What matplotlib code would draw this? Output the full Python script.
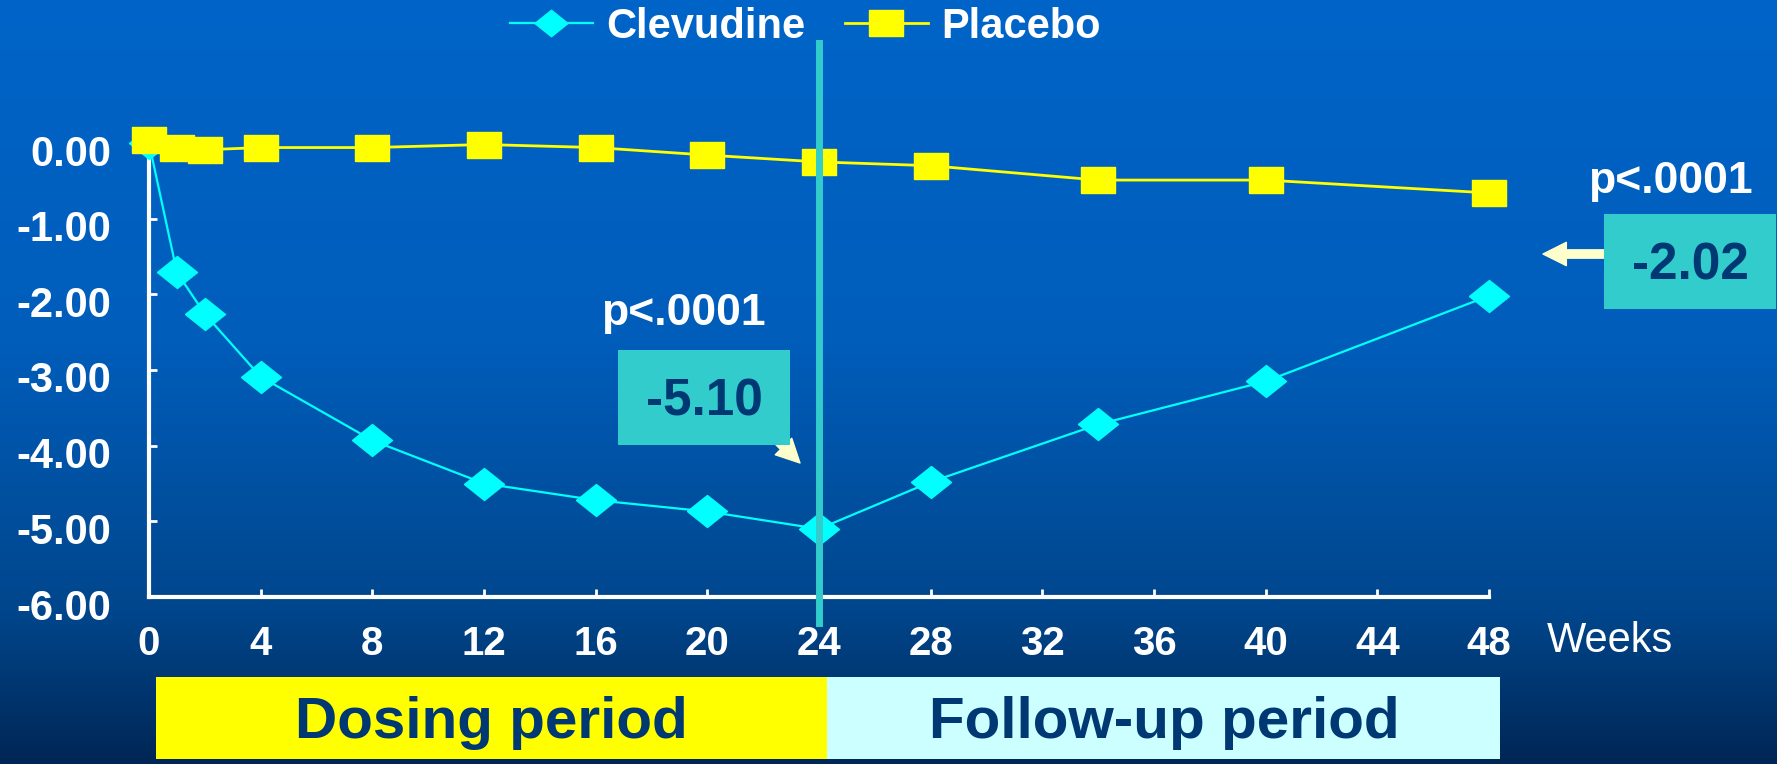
import matplotlib
matplotlib.use('Agg')
import matplotlib.pyplot as plt
import numpy as np
from matplotlib.patches import Rectangle, FancyArrowPatch
from matplotlib.lines import Line2D
from matplotlib.transforms import ScaledTranslation

plt.rcParams['font.family'] = ['Liberation Sans', 'DejaVu Sans']

# data
weeks = [0, 1, 2, 4, 8, 12, 16, 20, 24, 28, 34, 40, 48]
clevudine = [0.00, -1.71, -2.26, -3.09, -3.93, -4.50, -4.72, -4.87, -5.10, -4.48, -3.72, -3.15, -2.02]
placebo = [0.04, -0.06, -0.09, -0.06, -0.06, -0.02, -0.06, -0.16, -0.25, -0.30, -0.49, -0.49, -0.66]
week_ticks = list(range(0, 49, 4))
y_ticks = [0, -1, -2, -3, -4, -5, -6]
dosing_end = 24

W, H = 1777, 764
NAVY = '#003873'
TEAL = '#33CCCC'
PALE = '#FFFFCC'


def fx(px):
    return px / W


def fy(py):
    return 1 - py / H


fig = plt.figure(figsize=(W / 100, H / 100), dpi=100)

# blue gradient background
bg = fig.add_axes([0, 0, 1, 1], zorder=-10)
stops = [0.0, 0.45, 0.8, 1.0]
cols = np.array([[0, 100, 200], [0, 93, 186], [0, 70, 140], [0, 38, 85]]) / 255
t = np.linspace(0, 1, H)
grad = np.stack([np.interp(t, stops, cols[:, i]) for i in range(3)], axis=-1)[:, None, :]
bg.imshow(grad, aspect='auto', extent=[0, 1, 0, 1])
bg.axis('off')

ax = fig.add_axes([fx(149), fy(597), fx(1489) - fx(149), fy(97.6) - fy(597)])
ax.set_facecolor('none')

diamond = [(-1, 0), (0, 0.8), (1, 0), (0, -0.8), (-1, 0)]
rect = [(-1, -0.79), (1, -0.79), (1, 0.79), (-1, 0.79), (-1, -0.79)]

ax.plot(weeks, clevudine, color='#00FFFF', lw=1.6, marker=diamond, ms=28.8,
        mfc='#00FFFF', mec='#00FFFF', clip_on=False, zorder=3)
ax.plot(weeks, placebo, color='#FFFF00', lw=2, marker=rect, ms=23.8,
        mfc='#FFFF00', mec='#FFFF00', clip_on=False, zorder=4)
ax.plot([dosing_end, dosing_end], [1.32, -6.34], color=TEAL, lw=5,
        clip_on=False, zorder=5)

ax.set_xlim(0, 48)
ax.set_ylim(-6, 0.6)
for s in ['top', 'right']:
    ax.spines[s].set_visible(False)
for s in ['left', 'bottom']:
    ax.spines[s].set_color('white')
    ax.spines[s].set_linewidth(3)
ax.spines['left'].set_bounds(-6, 0)

ax.set_xticks(week_ticks, labels=[str(w) for w in week_ticks], fontweight='bold')
ax.set_yticks(y_ticks, labels=[f'{v:.2f}' for v in y_ticks], fontweight='bold')
ax.tick_params(axis='both', direction='in', length=6, width=2, colors='white', labelsize=29)
ax.tick_params(axis='y', pad=27, labelsize=30)
ax.tick_params(axis='x', pad=20)
shift = ScaledTranslation(0, -0.07, fig.dpi_scale_trans)
for lab in ax.get_yticklabels():
    lab.set_transform(lab.get_transform() + shift)

fig.text(fx(1547), fy(652), 'Weeks', color='white', fontsize=30, ha='left', va='baseline')

# legend
handles = [
    Line2D([], [], color='#00FFFF', lw=1.6, marker=diamond, ms=23.8, mfc='#00FFFF', mec='#00FFFF'),
    Line2D([], [], color='#FFFF00', lw=2, marker=rect, ms=23.8, mfc='#FFFF00', mec='#FFFF00'),
]
fig.legend(handles, ['Clevudine', 'Placebo'], loc='center', bbox_to_anchor=(fx(805), fy(27)),
           ncol=2, frameon=False, prop=dict(weight='bold', size=30), labelcolor='white',
           handlelength=2.0, handletextpad=0.31, columnspacing=0.95,
           borderpad=0, borderaxespad=0)

# period bands
fig.add_artist(Rectangle((fx(156), fy(759)), fx(827) - fx(156), (759 - 677) / H,
                         transform=fig.transFigure, facecolor='#FFFF00', edgecolor='none'))
fig.add_artist(Rectangle((fx(827), fy(759)), fx(1500) - fx(827), (759 - 677) / H,
                         transform=fig.transFigure, facecolor='#CCFFFF', edgecolor='none'))
fig.text(fx(491), fy(738), 'Dosing period', ha='center', va='baseline',
         fontsize=42, fontweight='bold', color=NAVY)
fig.text(fx(1164), fy(738), 'Follow-up period', ha='center', va='baseline',
         fontsize=42, fontweight='bold', color=NAVY)

# call-out boxes
arrow_style = 'simple,head_length=0.7,head_width=0.7,tail_width=0.25'
fig.add_artist(FancyArrowPatch((fx(762), fy(425)), (fx(800), fy(463)), transform=fig.transFigure,
                               arrowstyle=arrow_style, mutation_scale=24, color=PALE,
                               shrinkA=0, shrinkB=0, zorder=1))
fig.add_artist(FancyArrowPatch((fx(1612), fy(254)), (fx(1543), fy(254)), transform=fig.transFigure,
                               arrowstyle=arrow_style, mutation_scale=24, color=PALE,
                               shrinkA=0, shrinkB=0, zorder=1))
fig.add_artist(Rectangle((fx(618), fy(445)), fx(790) - fx(618), (445 - 350) / H,
                         transform=fig.transFigure, facecolor=TEAL, edgecolor='none', zorder=2))
fig.add_artist(Rectangle((fx(1604), fy(309)), fx(1776) - fx(1604), (309 - 214) / H,
                         transform=fig.transFigure, facecolor=TEAL, edgecolor='none', zorder=2))
fig.text(fx(704), fy(415), '-5.10', ha='center', va='baseline', fontsize=37,
         fontweight='bold', color=NAVY, zorder=3)
fig.text(fx(1690), fy(279), '-2.02', ha='center', va='baseline', fontsize=37,
         fontweight='bold', color=NAVY, zorder=3)
fig.text(fx(683), fy(325), 'p<.0001', ha='center', va='baseline', fontsize=32,
         fontweight='bold', color='white')
fig.text(fx(1670), fy(193), 'p<.0001', ha='center', va='baseline', fontsize=32,
         fontweight='bold', color='white')

fig.savefig('out.png', dpi=100)
